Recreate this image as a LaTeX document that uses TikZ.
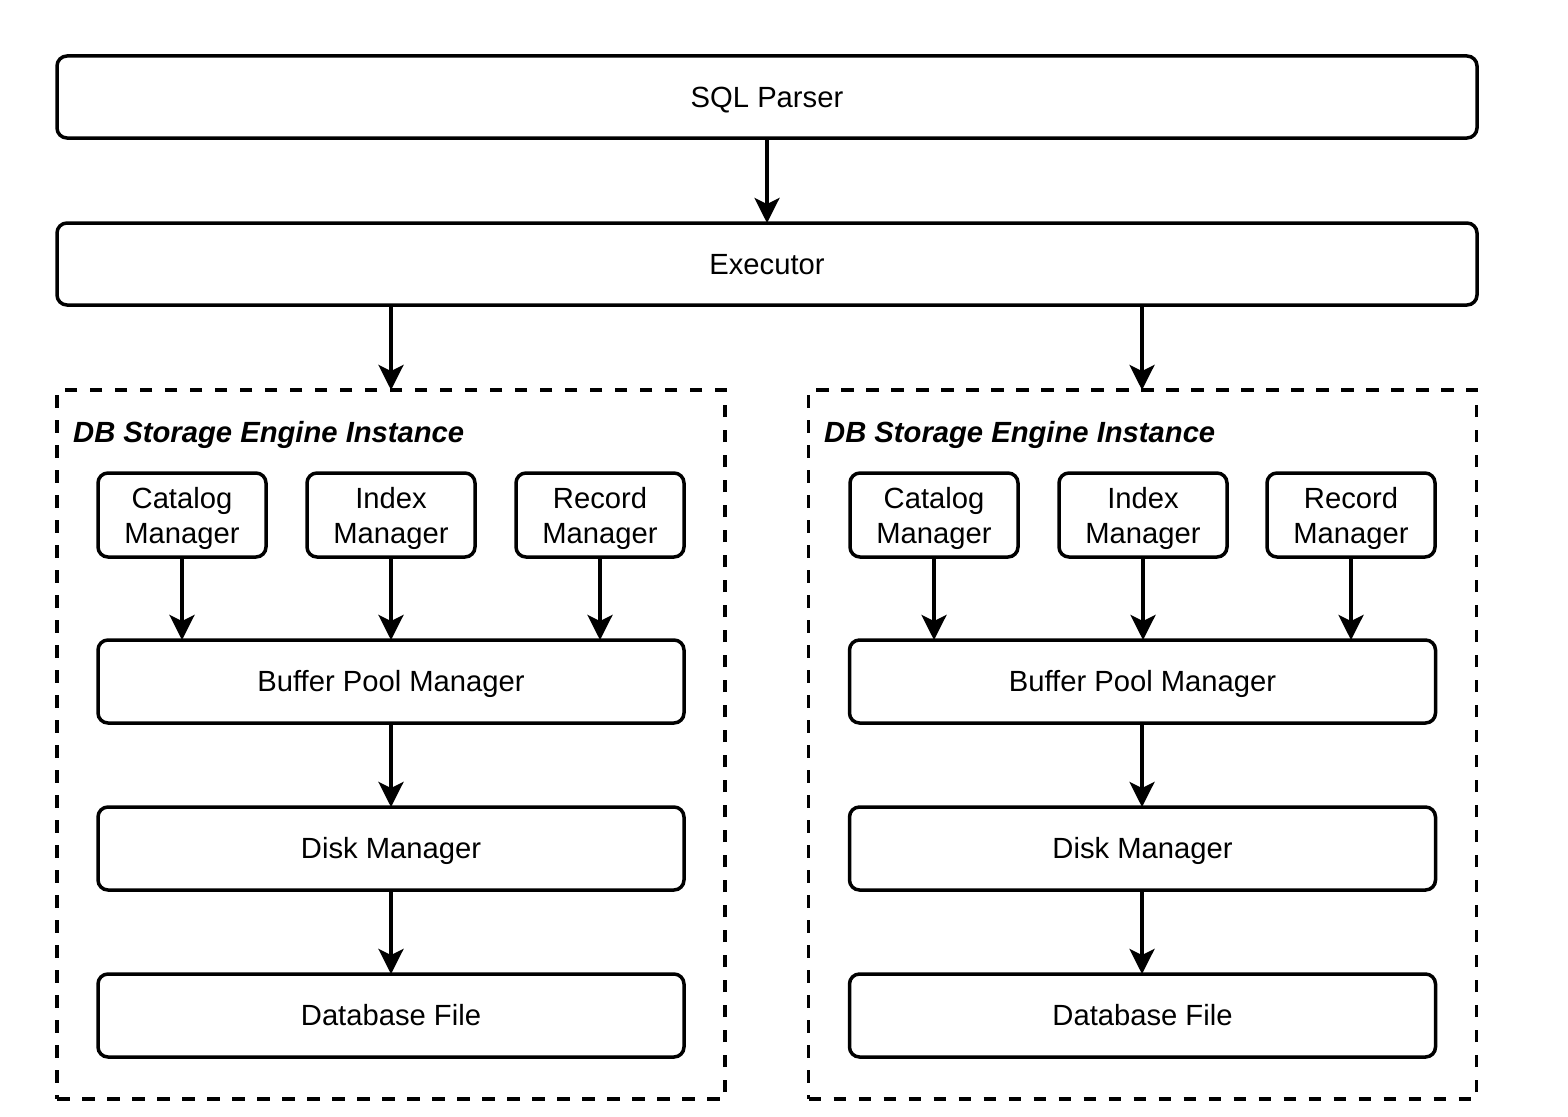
\documentclass[tikz,border=0pt]{standalone}
\usepackage{fontspec}
\setmainfont{Liberation Sans}
\usetikzlibrary{arrows.meta}
\newcommand{\toppad}{\rule{0pt}{29pt}}
\begin{document}
\begin{tikzpicture}[x=1pt,y=-1pt,
  box/.style={draw, line width=3.5pt, rounded corners=10pt, inner sep=0pt, outer sep=0pt, align=center,
    font=\fontsize{29.2}{35}\selectfont},
  oneline/.style={box, text height=20.9pt, text depth=0pt},
  wide/.style={oneline, minimum width=1420pt, minimum height=82pt},
  small/.style={box, minimum width=168pt, minimum height=84pt},
  mid/.style={oneline, minimum width=586pt, minimum height=83pt},
  dashbox/.style={draw, line width=3.5pt, dash pattern=on 12.5pt off 12.5pt, inner sep=0pt, outer sep=0pt,
    minimum width=668pt, minimum height=709pt},
  ttl/.style={anchor=base west, inner sep=0pt, font=\fontsize{29.2}{35}\selectfont\bfseries\itshape},
  arr/.style={line width=3.5pt, -{Stealth[length=25pt, width=25pt, inset=6pt]}}
]
\useasboundingbox (0,0) rectangle (1568,1116);

\node[wide] (sql) at (767,97) {SQL Parser};
\node[wide] (exec) at (767,264) {Executor};
\draw[arr] (sql) -- (exec);

% left instance
\node[dashbox] (instA) at (391,744.5) {};
\node[ttl] (ttlA) at (73,442) {DB Storage Engine Instance};
\node[small] (catA) at (182,515) {\toppad Catalog\\Manager};
\node[small] (idxA) at (391,515) {\toppad Index\\Manager};
\node[small] (recA) at (600,515) {\toppad Record\\Manager};
\node[mid] (bufA) at (391,681.5) {Buffer Pool Manager};
\node[mid] (diskA) at (391,848.5) {Disk Manager};
\node[mid] (dbA) at (391,1015.5) {Database File};

% right instance
\node[dashbox] (instB) at (1142.5,744.5) {};
\node[ttl] (ttlB) at (824,442) {DB Storage Engine Instance};
\node[small] (catB) at (934,515) {\toppad Catalog\\Manager};
\node[small] (idxB) at (1143,515) {\toppad Index\\Manager};
\node[small] (recB) at (1351,515) {\toppad Record\\Manager};
\node[mid] (bufB) at (1142.5,681.5) {Buffer Pool Manager};
\node[mid] (diskB) at (1142.5,848.5) {Disk Manager};
\node[mid] (dbB) at (1142.5,1015.5) {Database File};
\coordinate (cB) at (1142,0);

% executor to instances
\draw[arr] (exec.south -| instA.north) -- (instA.north);
\draw[arr] (exec.south -| cB) -- (instB.north -| cB);

% inner arrows
\foreach \s in {catA,idxA,recA}{\draw[arr] (\s.south) -- (\s.south |- bufA.north);}
\foreach \s in {catB,idxB,recB}{\draw[arr] (\s.south) -- (\s.south |- bufB.north);}
\draw[arr] (bufA) -- (diskA);
\draw[arr] (diskA) -- (dbA);
\draw[arr] (bufB.south -| cB) -- (diskB.north -| cB);
\draw[arr] (diskB.south -| cB) -- (dbB.north -| cB);
\end{tikzpicture}
\end{document}
